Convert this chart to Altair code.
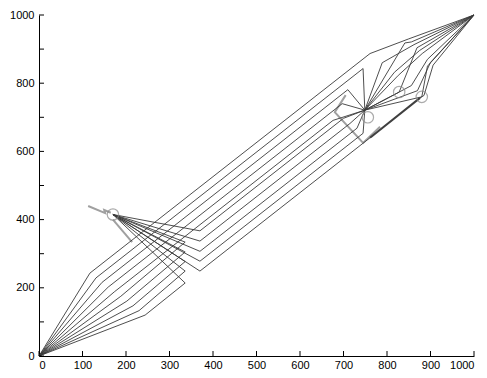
import altair as alt
import pandas as pd

# ---- paths (data units) ----
lane0 = [(0, 0), (117, 243), (761, 887), (850, 930), (1000, 1000)]
lane1 = [(0, 0), (131, 229), (745, 843), (749, 721), (841, 918), (856, 921), (1000, 1000)]
lane2 = [(0, 0), (145, 216), (710, 781), (749, 721), (789, 860), (862, 913), (1000, 1000)]
lane3 = [(0, 0), (159, 202), (697, 740), (749, 721), (828, 774), (869, 904), (1000, 1000)]
lane4 = [(0, 0), (173, 188), (676, 691), (749, 721), (817, 832), (875, 896), (1000, 1000)]
lane5 = [(0, 0), (188, 175), (336, 334), (170, 415), (370, 367), (700, 697), (749, 721),
         (826, 823), (881, 887), (1000, 1000)]
lane6 = [(0, 0), (202, 161), (336, 305), (170, 415), (370, 337), (715, 682), (749, 721),
         (880, 760), (893, 850), (1000, 1000)]
lane7 = [(0, 0), (216, 147), (336, 277), (170, 415), (370, 307), (731, 668), (749, 721),
         (828, 774), (856, 793), (893, 870), (1000, 1000)]
lane8 = [(0, 0), (230, 133), (336, 249), (170, 415), (370, 278), (745, 653), (749, 721),
         (870, 778), (900, 861), (1000, 1000)]
lane9 = [(0, 0), (244, 120), (336, 214), (170, 415), (370, 249), (761, 640), (876, 757),
         (885, 764), (906, 853), (1000, 1000)]

gray1 = [(113, 440), (152, 419), (150, 428), (165, 420)]
gray2 = [(170, 400), (214, 334)]
gray3 = [(705, 765), (680, 715), (745, 625), (784, 672)]
thick1 = [(761, 640), (876, 757)]

circle_x = [170, 756, 880, 828]
circle_y = [415, 700, 760, 774]

tick_values = [0, 100, 200, 300, 400, 500, 600, 700, 800, 900, 1000]

W, H = 435, 341


def to_df(paths):
    rows = []
    for name, pts in paths.items():
        for k, (px, py) in enumerate(pts):
            rows.append({"path": name, "order": k, "x": px, "y": py})
    return pd.DataFrame(rows)


dark_df = to_df({"l0": lane0, "l1": lane1, "l2": lane2, "l3": lane3, "l4": lane4,
                 "l5": lane5, "l6": lane6, "l7": lane7, "l8": lane8, "l9": lane9})
gray_df = to_df({"g1": gray1, "g2": gray2, "g3": gray3})
thick_df = to_df({"t1": thick1})
circ_df = pd.DataFrame({"x": circle_x, "y": circle_y})
ticks_df = pd.DataFrame({"v": tick_values})

xs = alt.Scale(domain=[0, 1000], nice=False, zero=False)
ys = alt.Scale(domain=[0, 1000], nice=False, zero=False)

xax = alt.Axis(values=tick_values, ticks=False, grid=False, labelPadding=3,
               format="d", title=None)
yax = alt.Axis(values=tick_values, ticks=False, grid=False, labelPadding=5,
               format="d", title=None)

base_x = alt.X("x:Q", scale=xs, axis=xax)
base_y = alt.Y("y:Q", scale=ys, axis=yax)

gray = alt.Chart(gray_df).mark_line(color="#a0a0a0", strokeWidth=2).encode(
    x=base_x, y=base_y, detail="path:N", order="order:Q")
dark = alt.Chart(dark_df).mark_line(color="#3a3a3a", strokeWidth=0.9).encode(
    x=base_x, y=base_y, detail="path:N", order="order:Q")
thick = alt.Chart(thick_df).mark_line(color="#404040", strokeWidth=2).encode(
    x=base_x, y=base_y, detail="path:N", order="order:Q")
circles = alt.Chart(circ_df).mark_point(shape="circle", size=130, color="#888888",
                                        strokeWidth=1.2, filled=False).encode(
    x=base_x, y=base_y)

xt = alt.Chart(ticks_df).mark_rule(color="black", strokeWidth=1).encode(
    x=alt.X("v:Q", scale=xs), y=alt.value(H), y2=alt.value(H - 5))
yt = alt.Chart(ticks_df).mark_rule(color="black", strokeWidth=1).encode(
    y=alt.Y("v:Q", scale=ys), x=alt.value(0), x2=alt.value(5))

chart = alt.layer(gray, dark, thick, circles, xt, yt).properties(
    width=W, height=H,
    autosize=alt.AutoSizeParams(type="none"),
    padding={"left": 31, "top": 7, "right": 4, "bottom": 13},
).configure_view(stroke=None).configure_axis(
    labelFont="Liberation Sans", labelFontSize=11, labelColor="#000000",
    domainColor="#000000", domainWidth=1,
)

chart.save("out.html", embed_options={"renderer": "svg", "actions": False})
